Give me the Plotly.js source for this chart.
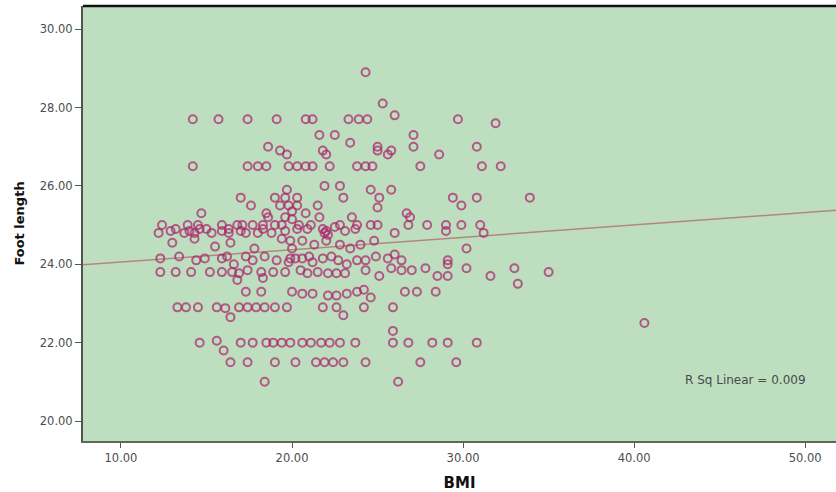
<!DOCTYPE html>
<html>
<head>
<meta charset="utf-8">
<script src="https://cdn.plot.ly/plotly-3.0.1.min.js"></script>
<style>
  html, body { margin: 0; padding: 0; background: #ffffff; }
  #chart { width: 836px; height: 492px; }
</style>
</head>
<body>
<div id="chart"></div>
<script>
// BMI and foot length (cm) for each subject, listed row by row
const bmi = [
  24.3, 25.3, 26.0,
  14.2, 15.7, 17.4, 19.1, 20.8, 21.2, 23.3, 23.9, 24.4, 29.7, 31.9,
  21.6, 22.5, 27.1, 23.4,
  18.6, 25.0, 27.1, 30.8,
  19.3, 21.8, 25.0, 25.8,
  19.7, 22.0, 25.6, 28.6,
  14.2, 17.4, 18.0, 18.5, 19.8, 20.3, 20.8, 21.2, 22.2, 23.8, 24.3, 24.7, 27.5, 31.1, 32.2,
  21.9, 22.8, 19.7, 24.6, 25.8,
  23.0, 19.6, 20.3, 25.1, 29.4, 30.8, 33.9, 17.0, 19.0,
  17.6, 29.9, 25.0, 19.3, 19.8, 20.3, 21.5,
  14.7, 26.7, 20.8, 20.0, 18.5,
  26.9, 18.6, 19.6, 21.6, 23.5, 20.0,
  12.4, 13.9, 14.5, 15.9, 17.1, 17.7, 18.3, 19.0, 19.4, 20.4, 21.1, 22.8, 23.8, 24.6, 25.0, 26.8, 27.9, 29.0, 29.9, 31.0,
  13.2, 16.3, 18.3, 20.3, 21.8, 22.0, 23.7, 12.9, 14.0, 14.6, 15.9, 17.0, 19.6, 23.1, 29.0,
  12.2, 13.7, 14.3, 15.3, 16.3, 17.3, 18.0, 26.0, 31.2, 21.9, 22.1,
  15.0, 16.8, 18.8, 20.9, 22.5,
  13.0, 14.3, 16.4, 19.4, 19.9, 30.2, 20.6, 21.3, 22.0, 22.8, 23.4, 24.0, 20.0, 24.8, 17.8, 15.5,
  12.3, 13.4, 14.4, 14.9, 15.9, 16.6, 17.3, 17.7, 18.4, 19.1, 19.9, 19.8, 20.2, 20.6, 21.2, 21.8, 22.3, 23.2, 23.8, 24.3, 24.9, 25.6, 26.0, 26.4, 29.1, 29.1,
  21.0, 22.7, 16.2,
  12.3, 14.1, 15.2, 15.9, 16.5, 16.9, 17.4, 18.2, 19.6, 20.5, 20.9, 21.5, 22.1, 22.6, 23.1, 24.3, 25.1, 25.8, 26.4, 27.0, 27.8, 28.5, 29.1, 30.2, 31.6, 33.0, 35.0, 33.2, 16.8, 18.3,
  18.9, 13.2,
  17.3, 18.2, 20.0, 20.6, 21.2, 22.1, 22.6, 23.2, 23.8, 24.2, 24.6, 26.6, 27.3, 28.4,
  13.3, 13.8, 14.5, 15.6, 16.1, 16.9, 17.4, 17.9, 18.4, 19.0, 19.7, 21.8, 22.6, 24.2, 25.9,
  16.4, 23.0, 25.9,
  14.6, 15.6, 16.0, 17.0, 17.7, 18.5, 18.9, 19.4, 19.9, 20.6, 21.1, 21.7, 22.2, 22.8, 23.7, 25.9, 26.8, 28.2, 29.1, 30.8,
  16.4, 17.4, 19.0, 20.2, 21.4, 21.9, 22.4, 23.0, 24.3, 27.5, 29.6,
  18.4, 26.2,
  40.6
];
const footLength = [
  28.9, 28.1, 27.8,
  27.7, 27.7, 27.7, 27.7, 27.7, 27.7, 27.7, 27.7, 27.7, 27.7, 27.6,
  27.3, 27.3, 27.3, 27.1,
  27.0, 27.0, 27.0, 27.0,
  26.9, 26.9, 26.9, 26.9,
  26.8, 26.8, 26.8, 26.8,
  26.5, 26.5, 26.5, 26.5, 26.5, 26.5, 26.5, 26.5, 26.5, 26.5, 26.5, 26.5, 26.5, 26.5, 26.5,
  26.0, 26.0, 25.9, 25.9, 25.9,
  25.7, 25.7, 25.7, 25.7, 25.7, 25.7, 25.7, 25.7, 25.7,
  25.5, 25.5, 25.45, 25.5, 25.5, 25.5, 25.5,
  25.3, 25.3, 25.3, 25.35, 25.3,
  25.2, 25.2, 25.2, 25.2, 25.2, 25.15,
  25.0, 25.0, 25.0, 25.0, 25.0, 25.0, 25.0, 25.0, 25.0, 25.0, 25.0, 25.0, 25.0, 25.0, 25.0, 25.0, 25.0, 25.0, 25.0, 25.0,
  24.9, 24.9, 24.9, 24.9, 24.9, 24.85, 24.9, 24.85, 24.85, 24.9, 24.85, 24.85, 24.85, 24.85, 24.85,
  24.8, 24.8, 24.8, 24.8, 24.8, 24.8, 24.8, 24.8, 24.8, 24.8, 24.75,
  24.9, 25.0, 24.8, 24.9, 24.95,
  24.55, 24.65, 24.55, 24.65, 24.6, 24.4, 24.6, 24.5, 24.6, 24.5, 24.4, 24.5, 24.4, 24.6, 24.4, 24.45,
  24.15, 24.2, 24.1, 24.15, 24.15, 24.0, 24.2, 24.1, 24.2, 24.1, 24.15, 24.05, 24.15, 24.15, 24.05, 24.15, 24.2, 24.0, 24.1, 24.1, 24.2, 24.15, 24.25, 24.1, 24.1, 24.0,
  24.2, 24.1, 24.2,
  23.8, 23.8, 23.8, 23.8, 23.8, 23.77, 23.85, 23.8, 23.8, 23.85, 23.77, 23.8, 23.77, 23.77, 23.77, 23.85, 23.7, 23.9, 23.85, 23.85, 23.9, 23.7, 23.7, 23.9, 23.7, 23.9, 23.8, 23.5, 23.6, 23.65,
  23.8, 23.8,
  23.3, 23.3, 23.3, 23.25, 23.25, 23.2, 23.2, 23.25, 23.3, 23.35, 23.15, 23.3, 23.3, 23.3,
  22.9, 22.9, 22.9, 22.9, 22.88, 22.9, 22.9, 22.9, 22.9, 22.9, 22.9, 22.9, 22.9, 22.9, 22.9,
  22.65, 22.7, 22.3,
  22.0, 22.05, 21.8, 22.0, 22.0, 22.0, 22.0, 22.0, 22.0, 22.0, 22.0, 22.0, 22.0, 22.0, 22.0, 22.0, 22.0, 22.0, 22.0, 22.0,
  21.5, 21.5, 21.5, 21.5, 21.5, 21.5, 21.5, 21.5, 21.5, 21.5, 21.5,
  21.0, 21.0,
  22.5
];

// Linear fit of foot length on BMI
const fitIntercept = 23.74;
const fitSlope = 0.0316;
const rSquared = 0.009;

// Axis ranges and tick positions
const xRange = [7.78, 51.8];
const yRange = [19.49, 30.59];
const xTicks = [10, 20, 30, 40, 50];
const yTicks = [20, 22, 24, 26, 28, 30];

const fitX = xRange.slice();
const fitY = fitX.map(v => fitIntercept + fitSlope * v);

const points = {
  type: 'scatter',
  mode: 'markers',
  x: bmi,
  y: footLength,
  marker: {
    symbol: 'circle-open',
    size: 8,
    color: 'rgba(172,38,108,0.72)',
    line: { width: 2 }
  },
  hoverinfo: 'x+y',
  showlegend: false
};

const fitLine = {
  type: 'scatter',
  mode: 'lines',
  x: fitX,
  y: fitY,
  line: { color: 'rgb(180,135,125)', width: 1.5 },
  hoverinfo: 'skip',
  showlegend: false
};

const tickFont = { family: 'DejaVu Sans, Arial, sans-serif', size: 11.5, color: '#4d4d4d' };

const layout = {
  width: 836,
  height: 492,
  margin: { l: 83, r: 0, t: 6, b: 51, pad: 0 },
  paper_bgcolor: '#ffffff',
  plot_bgcolor: 'rgb(189,223,192)',
  xaxis: {
    range: xRange,
    tickvals: xTicks,
    tickformat: '.2f',
    ticks: 'outside',
    ticklen: 5,
    tickwidth: 1,
    tickcolor: '#555555',
    tickfont: tickFont,
    showgrid: false,
    zeroline: false,
    showline: true,
    linecolor: 'rgb(90,105,90)',
    linewidth: 2,
    title: {
      text: 'BMI',
      font: { family: 'DejaVu Sans, Arial, sans-serif', size: 15, color: '#111111', weight: 'bold' },
      standoff: 15
    }
  },
  yaxis: {
    range: yRange,
    tickvals: yTicks,
    tickformat: '.2f',
    ticks: 'outside',
    ticklen: 6,
    tickwidth: 1,
    tickcolor: '#555555',
    tickfont: tickFont,
    showgrid: false,
    zeroline: false,
    showline: true,
    linecolor: 'rgb(80,85,80)',
    linewidth: 2,
    title: {
      text: 'Foot length',
      font: { family: 'DejaVu Sans, Arial, sans-serif', size: 13, color: '#111111', weight: 'bold' },
      standoff: 12
    }
  },
  shapes: [
    {
      type: 'line', xref: 'paper', yref: 'paper',
      x0: 0, x1: 1, y0: 1, y1: 1,
      line: { color: '#111111', width: 2.5 }
    }
  ],
  annotations: [
    {
      x: 46.5, y: 21.04, xref: 'x', yref: 'y',
      text: 'R Sq Linear = ' + rSquared.toFixed(3),
      showarrow: false,
      font: { family: 'DejaVu Sans, Arial, sans-serif', size: 12, color: '#4a4a4a' }
    }
  ]
};

Plotly.newPlot('chart', [fitLine, points], layout, { displayModeBar: false, staticPlot: true });
</script>
</body>
</html>
